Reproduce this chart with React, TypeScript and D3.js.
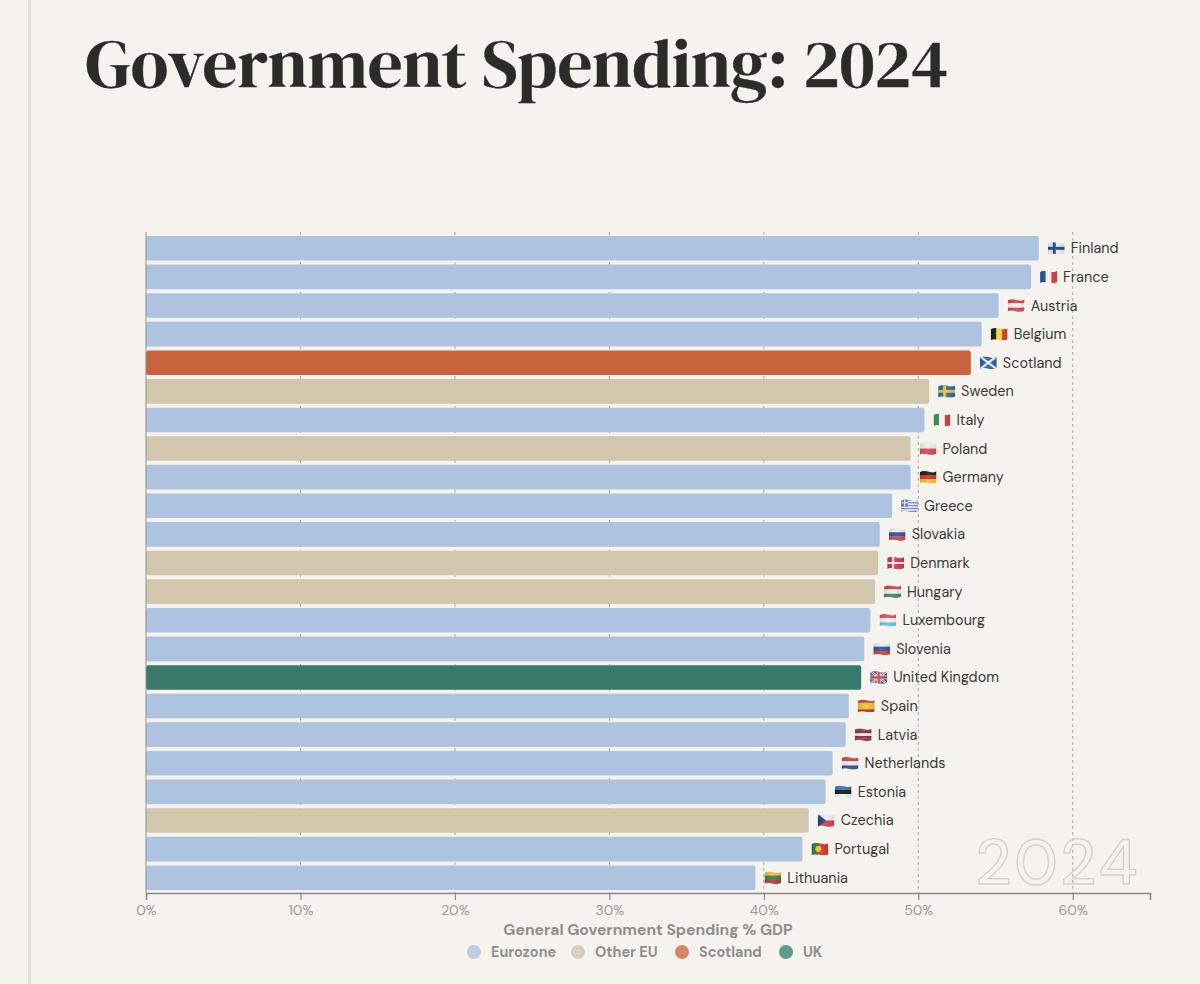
import { useEffect, useRef } from "react";
import * as d3 from "d3";

const COUNTRIES = ["Finland", "France", "Austria", "Belgium", "Scotland", "Sweden", "Italy", "Poland", "Germany", "Greece", "Slovakia", "Denmark", "Hungary", "Luxembourg", "Slovenia", "United Kingdom", "Spain", "Latvia", "Netherlands", "Estonia", "Czechia", "Portugal", "Lithuania"];
const VALUES = [57.8, 57.3, 55.2, 54.1, 53.4, 50.7, 50.4, 49.5, 49.5, 48.3, 47.5, 47.4, 47.2, 46.9, 46.5, 46.3, 45.5, 45.3, 44.45, 44.0, 42.9, 42.5, 39.45];
const GROUPS = ["Eurozone", "Eurozone", "Eurozone", "Eurozone", "Scotland", "Other EU", "Eurozone", "Other EU", "Eurozone", "Eurozone", "Eurozone", "Other EU", "Other EU", "Eurozone", "Eurozone", "UK", "Eurozone", "Eurozone", "Eurozone", "Eurozone", "Other EU", "Eurozone", "Eurozone"];
const LEGEND = ["Eurozone", "Other EU", "Scotland", "UK"];
const BAR_COLORS = ["#adc3df", "#d2c6ad", "#c9633d", "#38796a"];
const DOT_COLORS = ["#bccde4", "#dccfb9", "#da8467", "#5b9c8e"];
const TICKS = [0, 10, 20, 30, 40, 50, 60];

const STRIPES: Record<string, { dir: "h" | "v"; colors: string[] }> = {
  France: { dir: "v", colors: ["#2a4f9c", "#f1f1f1", "#d5403c"] },
  Austria: { dir: "h", colors: ["#d0474a", "#f3f0f0", "#d0474a"] },
  Belgium: { dir: "v", colors: ["#1b1b1b", "#f2d13c", "#d8403c"] },
  Italy: { dir: "v", colors: ["#3d8f53", "#f3f3f0", "#c9404a"] },
  Poland: { dir: "h", colors: ["#eeecec", "#d5485a"] },
  Germany: { dir: "h", colors: ["#1d1d1d", "#d1342c", "#f0c42c"] },
  Slovakia: { dir: "h", colors: ["#eeeeee", "#2d55a0", "#d5404a"] },
  Hungary: { dir: "h", colors: ["#cf4a45", "#f2f0ee", "#45875c"] },
  Luxembourg: { dir: "h", colors: ["#e0505a", "#f4f2f0", "#6cc0e6"] },
  Slovenia: { dir: "h", colors: ["#eeeeee", "#2f55b0", "#d8403c"] },
  Spain: { dir: "h", colors: ["#c8342c", "#f2c42c", "#f2c42c", "#c8342c"] },
  Latvia: { dir: "h", colors: ["#8e2f3c", "#8e2f3c", "#f0eeee", "#8e2f3c", "#8e2f3c"] },
  Netherlands: { dir: "h", colors: ["#c8444c", "#f2f0f0", "#2f539c"] },
  Estonia: { dir: "h", colors: ["#3a78c0", "#1c1c1c", "#f0f0f0"] },
  Lithuania: { dir: "h", colors: ["#eec22c", "#3c8050", "#b8383c"] },
};

const FLAG_W = 17;
const FLAG_H = 13;

function drawFlag(g: d3.Selection<SVGGElement, unknown, null, undefined>, name: string) {
  const r = (x: number, y: number, w: number, h: number, fill: string) =>
    g.append("rect").attr("x", x).attr("y", y).attr("width", w).attr("height", h).attr("fill", fill);
  const l = (x1: number, y1: number, x2: number, y2: number, stroke: string, sw: number) =>
    g.append("line").attr("x1", x1).attr("y1", y1).attr("x2", x2).attr("y2", y2).attr("stroke", stroke).attr("stroke-width", sw);
  const W = FLAG_W, H = FLAG_H;
  const s = STRIPES[name];
  if (s) {
    s.colors.forEach((c, i) => {
      if (s.dir === "h") r(0, (H * i) / s.colors.length, W, H / s.colors.length + 0.1, c);
      else r((W * i) / s.colors.length, 0, W / s.colors.length + 0.1, H, c);
    });
  } else if (name === "Finland" || name === "Sweden" || name === "Denmark") {
    const bg = name === "Finland" ? "#e8ebef" : name === "Sweden" ? "#2c68a8" : "#c83c4c";
    const fg = name === "Finland" ? "#24457f" : name === "Sweden" ? "#eec42c" : "#f2f0f0";
    const t = name === "Denmark" ? 2 : 3;
    r(0, 0, W, H, bg);
    r(5, 0, t, H, fg);
    r(0, H / 2 - t / 2, W, t, fg);
  } else if (name === "Scotland") {
    r(0, 0, W, H, "#2c62ac");
    l(0, 0, W, H, "#f2f2f2", 2.2);
    l(W, 0, 0, H, "#f2f2f2", 2.2);
  } else if (name === "United Kingdom") {
    r(0, 0, W, H, "#3a4f8c");
    l(0, 0, W, H, "#e6e6e6", 2.4);
    l(W, 0, 0, H, "#e6e6e6", 2.4);
    l(0, 0, W, H, "#c8484f", 0.8);
    l(W, 0, 0, H, "#c8484f", 0.8);
    r(W / 2 - 2, 0, 4, H, "#e6e6e6");
    r(0, H / 2 - 2, W, 4, "#e6e6e6");
    r(W / 2 - 1.2, 0, 2.4, H, "#c8484f");
    r(0, H / 2 - 1.2, W, 2.4, "#c8484f");
  } else if (name === "Greece") {
    d3.range(9).forEach((i) => r(0, (H * i) / 9, W, H / 9 + 0.05, i % 2 ? "#e8ecf2" : "#6f8fc8"));
    r(0, 0, 7, (H * 5) / 9, "#5f80c0");
    r(3, 0, 1.2, (H * 5) / 9, "#e8ecf2");
    r(0, (H * 2) / 9, 7, 1.2, "#e8ecf2");
  } else if (name === "Czechia") {
    r(0, 0, W, H / 2, "#eeeeee");
    r(0, H / 2, W, H / 2, "#d04048");
    g.append("path").attr("d", `M0,0L${W * 0.5},${H / 2}L0,${H}Z`).attr("fill", "#24477f");
  } else if (name === "Portugal") {
    r(0, 0, W, H, "#d8382f");
    r(0, 0, W * 0.4, H, "#2c7a46");
    g.append("circle").attr("cx", W * 0.4).attr("cy", H / 2).attr("r", 3).attr("fill", "#eec42c");
  }
}

export default function App() {
  const svgRef = useRef<SVGSVGElement | null>(null);

  useEffect(() => {
    const el = svgRef.current;
    if (!el) return;
    el.innerHTML = "";
    const svg = d3.select(el);
    const sans = "'DM Sans', Inter, 'Noto Sans', sans-serif";

    // Wavy emoji-style outline shared by every flag
    const defs = svg.append("defs");
    defs.append("clipPath").attr("id", "flag-wave").append("path")
      .attr("d", `M0,1.6Q${FLAG_W * 0.25},-0.6 ${FLAG_W * 0.55},1T${FLAG_W},0.6V${FLAG_H - 1.4}Q${FLAG_W * 0.75},${FLAG_H + 0.6} ${FLAG_W * 0.45},${FLAG_H - 0.8}T0,${FLAG_H - 0.4}Z`);
    const shade = defs.append("linearGradient").attr("id", "flag-shade").attr("x1", 0).attr("x2", 1).attr("y1", 0).attr("y2", 0);
    shade.append("stop").attr("offset", "0%").attr("stop-color", "#000").attr("stop-opacity", 0.1);
    shade.append("stop").attr("offset", "50%").attr("stop-color", "#fff").attr("stop-opacity", 0.08);
    shade.append("stop").attr("offset", "100%").attr("stop-color", "#000").attr("stop-opacity", 0.08);

    svg.append("rect").attr("width", 1200).attr("height", 984).attr("fill", "#f4f3ee");
    svg.append("rect").attr("x", 28).attr("width", 3).attr("height", 984).attr("fill", "#e2e2dd");

    svg.append("text")
      .attr("x", 85.5).attr("y", 87)
      .attr("font-family", "'DM Serif Display', 'Liberation Serif', serif")
      .attr("font-size", 68.9)
      .attr("fill", "#2b2b29")
      .attr("stroke", "#2b2b29")
      .attr("stroke-width", 0.4)
      .text("Government Spending: 2024");

    const x = d3.scaleLinear().domain([0, 65]).range([146, 1150]);
    const y = d3.scaleBand().domain(COUNTRIES).range([234, 892]).paddingInner(0.14).paddingOuter(0.07);
    const color = d3.scaleOrdinal<string>().domain(LEGEND).range(BAR_COLORS);
    const dot = d3.scaleOrdinal<string>().domain(LEGEND).range(DOT_COLORS);
    const bottom = 893;

    // Dashed gridlines sit under the bars
    svg.append("g").selectAll("line").data(TICKS.slice(1)).join("line")
      .attr("x1", (d) => x(d)).attr("x2", (d) => x(d))
      .attr("y1", 232).attr("y2", bottom)
      .attr("stroke", "#a9a9a4").attr("stroke-width", 1).attr("stroke-dasharray", "3 3");

    // Watermark year
    svg.append("text")
      .attr("x", 1058).attr("y", 884)
      .attr("text-anchor", "middle")
      .attr("font-family", sans)
      .attr("font-size", 63)
      .attr("font-weight", 500)
      .attr("letter-spacing", 3)
      .attr("fill", "none")
      .attr("stroke", "#d2d2cd")
      .attr("stroke-width", 1.3)
      .text("2024");

    svg.append("g").selectAll("rect").data(COUNTRIES).join("rect")
      .attr("x", x(0))
      .attr("y", (d) => y(d)!)
      .attr("width", (_, i) => x(VALUES[i]) - x(0))
      .attr("height", y.bandwidth())
      .attr("rx", 2)
      .attr("fill", (_, i) => color(GROUPS[i]));

    // Flag and country name after each bar
    COUNTRIES.forEach((name, i) => {
      const end = x(VALUES[i]);
      const cy = y(name)! + y.bandwidth() / 2;
      const g = svg.append("g")
        .attr("transform", `translate(${end + 9},${cy - FLAG_H / 2})`)
        .attr("clip-path", "url(#flag-wave)");
      drawFlag(g, name);
      g.append("rect").attr("width", FLAG_W).attr("height", FLAG_H).attr("fill", "url(#flag-shade)");
      svg.append("text")
        .attr("x", end + 32).attr("y", cy + 5)
        .attr("font-family", sans)
        .attr("font-size", 14.4)
        .attr("fill", "#3a3a38")
        .text(name);
    });

    // Axes
    const axis = svg.append("g")
      .attr("transform", `translate(0,${bottom})`)
      .call(d3.axisBottom(x).tickValues([...TICKS, 65]).tickSize(7).tickPadding(5).tickFormat((d) => (+d === 65 ? "" : `${d}%`)));
    axis.select(".domain").attr("stroke", "#8b8b86").attr("stroke-width", 1.5);
    axis.selectAll("line").attr("stroke", "#8b8b86").attr("stroke-width", 1.2);
    axis.selectAll("text").attr("font-family", sans).attr("font-size", 14).attr("fill", "#9a9a95");

    svg.append("line")
      .attr("x1", x(0)).attr("x2", x(0)).attr("y1", 232).attr("y2", bottom)
      .attr("stroke", "#8b8b86").attr("stroke-width", 1);

    svg.append("text")
      .attr("x", 648).attr("y", 935)
      .attr("text-anchor", "middle")
      .attr("font-family", sans)
      .attr("font-weight", 700)
      .attr("font-size", 15.6)
      .attr("fill", "#8f8f8a")
      .text("General Government Spending % GDP");

    // Legend
    const legendX = d3.scalePoint().domain(LEGEND).range([474, 786]);
    const legend = svg.append("g").selectAll("g").data(LEGEND).join("g")
      .attr("transform", (d) => `translate(${legendX(d)},952)`);
    legend.append("circle").attr("r", 7).attr("fill", (d) => dot(d));
    legend.append("text")
      .attr("x", 17).attr("y", 5)
      .attr("font-family", sans)
      .attr("font-weight", 700)
      .attr("font-size", 14.4)
      .attr("fill", "#8f8f8a")
      .text((d) => d);
  }, []);

  return <svg ref={svgRef} width={1200} height={984} style={{ position: "absolute", left: 0, top: 0 }} />;
}
